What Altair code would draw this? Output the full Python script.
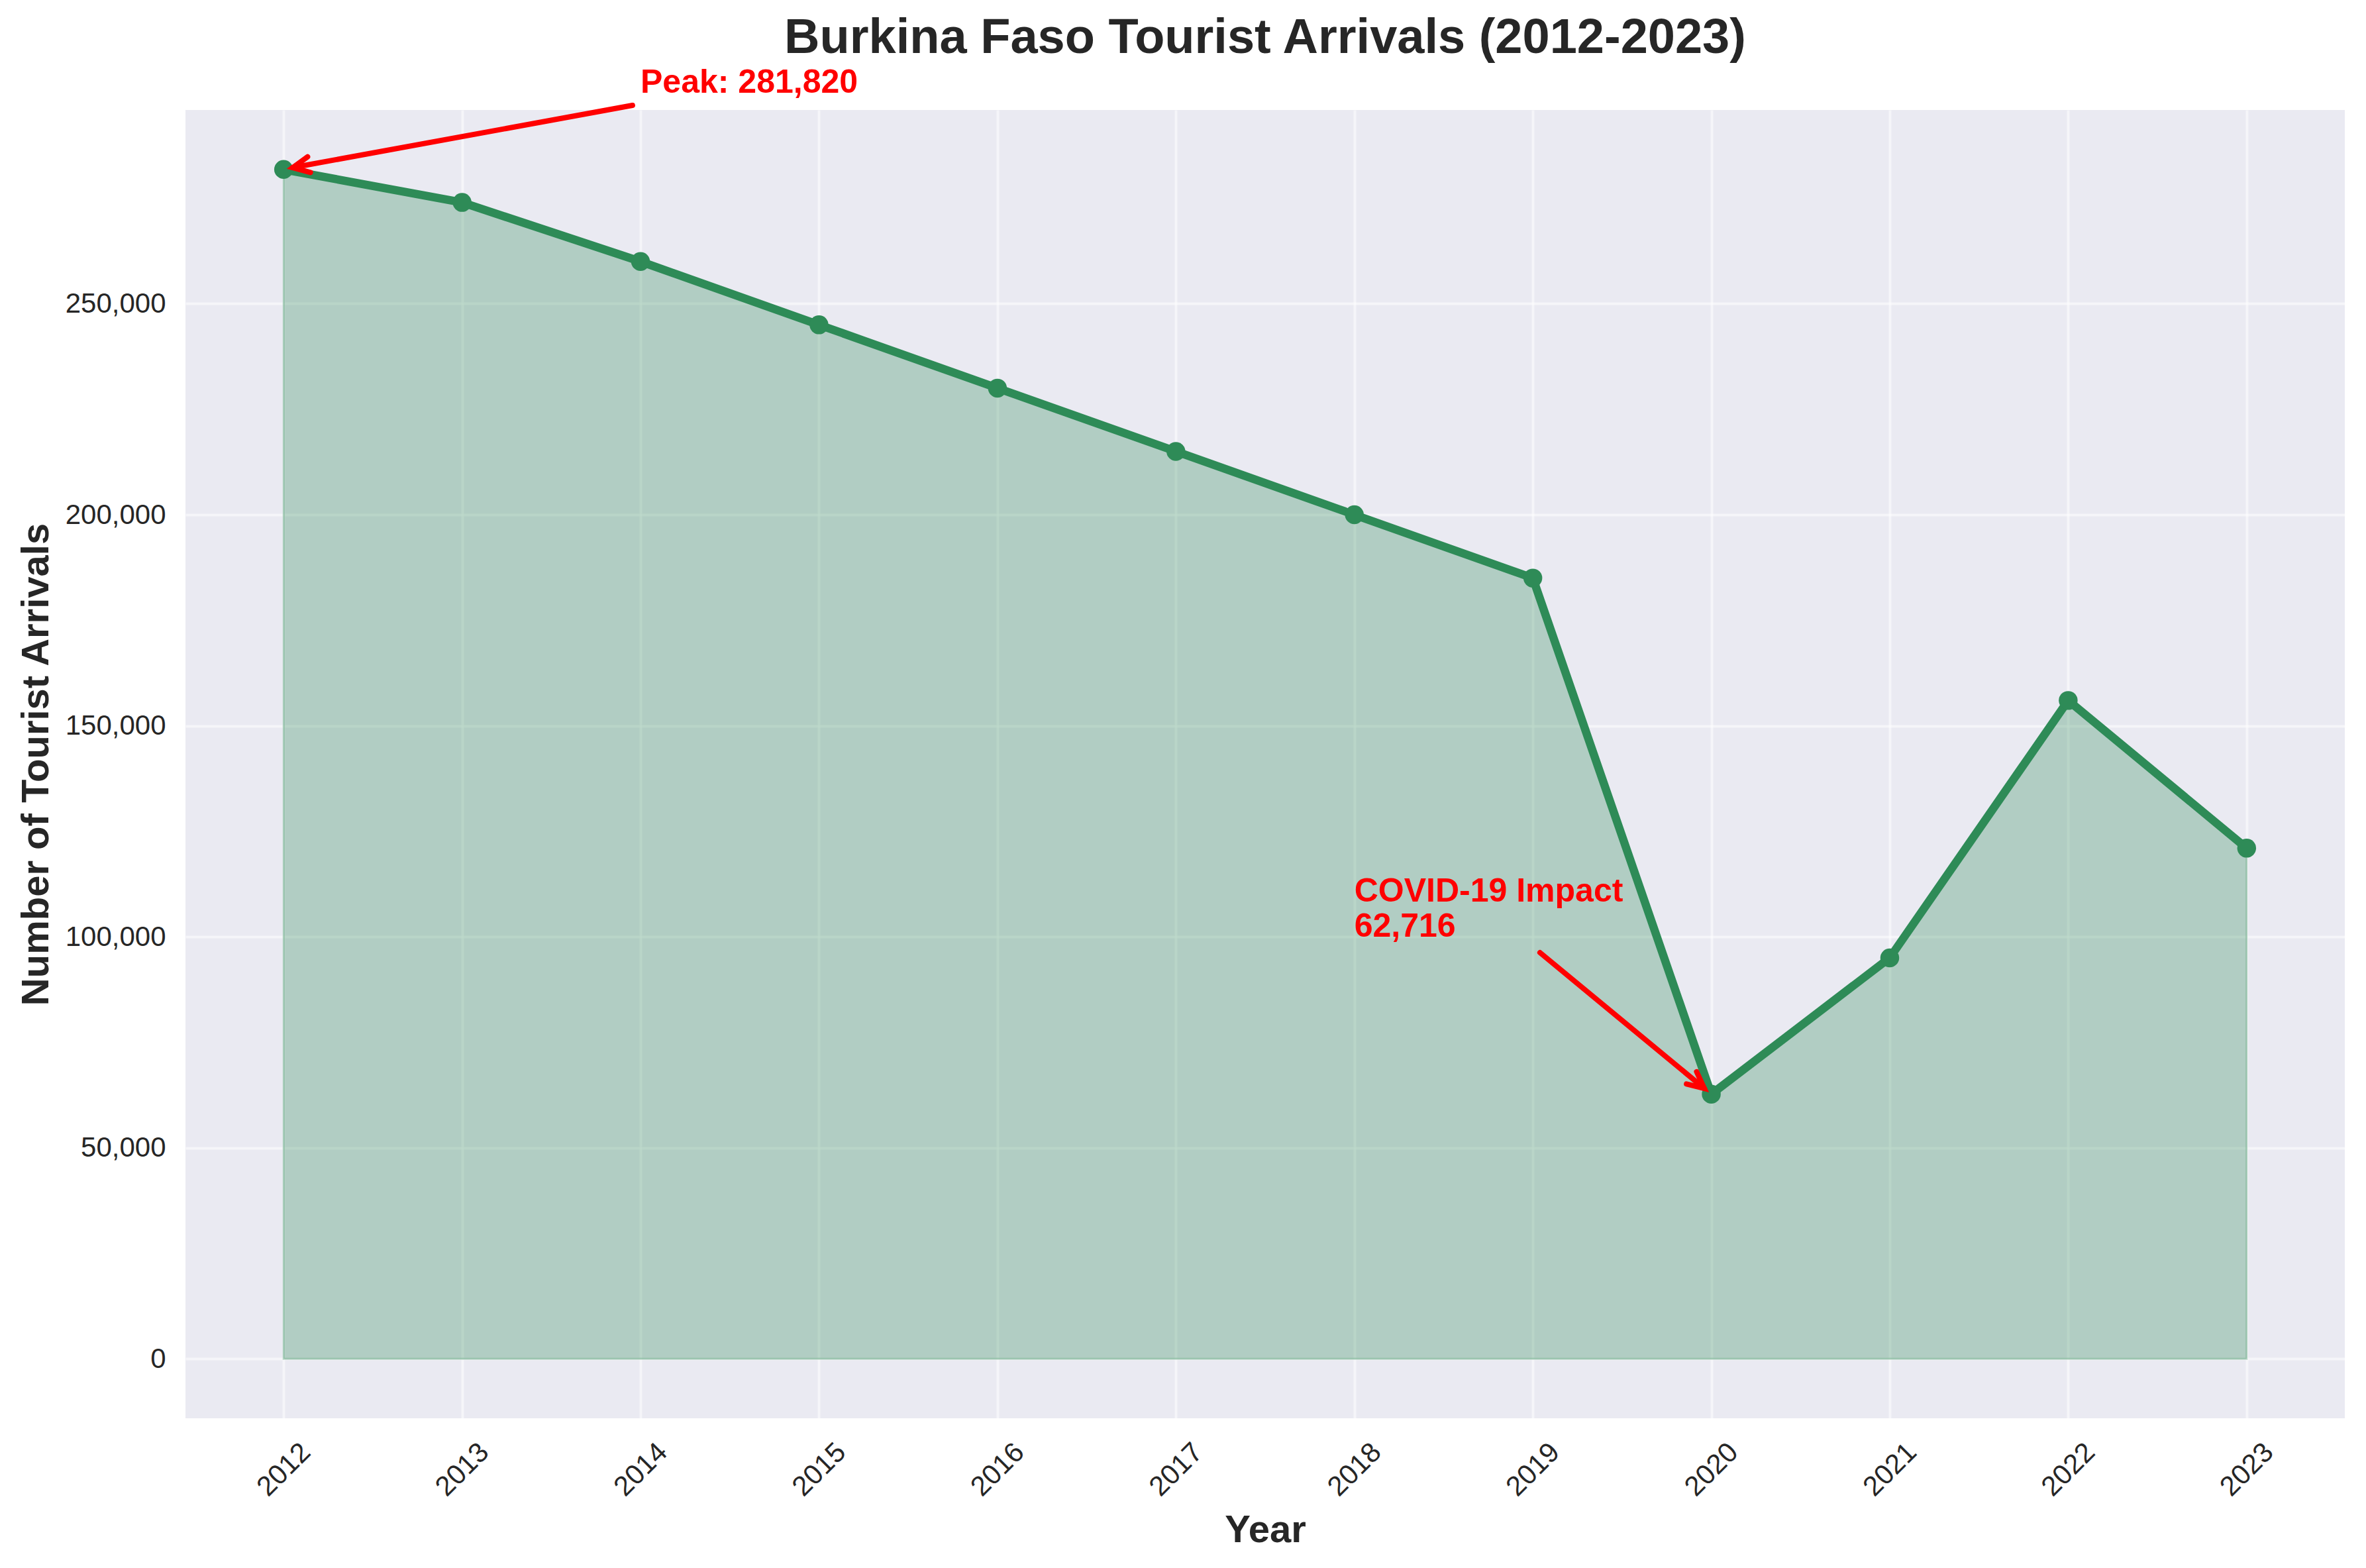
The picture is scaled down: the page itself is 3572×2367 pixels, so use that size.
import math
import altair as alt
import pandas as pd

# ---- data ----
years = list(range(2012, 2024))
arrivals = [281820, 274000, 260000, 245000, 230000, 215000,
            200000, 185000, 62716, 95000, 156000, 121000]

y_ticks = [0, 50000, 100000, 150000, 200000, 250000]

# annotations (data coordinates)
ann_labels = ["Peak: 281,820", "COVID-19 Impact", "62,716"]
ann_text_x = [2014, 2018, 2018]
ann_text_y = [300000, 100000, 100000]
ann_lines_below = [0, 1, 0]

arrow_tail_x = [2013.955, 2019.04]
arrow_tail_y = [297010, 96254]
arrow_tip_x = [2012.051, 2019.961]
arrow_tip_y = [282255, 64078]

x_domain = [2011.45, 2023.55]
y_domain = [-14091, 295911]

# ---- styling ----
W, H = 3260, 1975
GREEN = "#2E8B57"
RED = "#FF0000"
TXT = "#262626"
FONT = "Liberation Sans"

df = pd.DataFrame({"year": years, "arrivals": arrivals})
ann = pd.DataFrame({"label": ann_labels, "x": ann_text_x, "y": ann_text_y,
                    "below": ann_lines_below})


def sx(v):
    return (v - x_domain[0]) / (x_domain[1] - x_domain[0]) * W


def sy(v):
    return (y_domain[1] - v) / (y_domain[1] - y_domain[0]) * H


angles = [
    math.degrees(math.atan2(sy(hy) - sy(ty), sx(hx) - sx(tx))) % 360
    for tx, ty, hx, hy in zip(arrow_tail_x, arrow_tail_y, arrow_tip_x, arrow_tip_y)
]
arrows = pd.DataFrame({"tx": arrow_tail_x, "ty": arrow_tail_y,
                       "hx": arrow_tip_x, "hy": arrow_tip_y, "angle": angles})

xscale = alt.Scale(domain=x_domain, nice=False, zero=False)
yscale = alt.Scale(domain=y_domain, nice=False, zero=False)

xaxis = alt.Axis(
    values=years, format="d", labelAngle=315, labelAlign="center",
    labelBaseline="middle", labelPadding=77, labelFontSize=42,
    labelColor=TXT, labelFont=FONT, ticks=False, tickSize=0, domain=False,
    grid=True, gridColor="white", gridOpacity=0.5, gridWidth=4,
    title="Year", titleFontSize=58, titleFontWeight="bold", titleColor=TXT,
    titleFont=FONT, titleX=W / 2, titleY=186, titleAlign="center",
    titleBaseline="alphabetic", labelFlush=False, labelOverlap=False,
)
yaxis = alt.Axis(
    values=y_ticks, format=",d", labelPadding=30, labelFontSize=42,
    labelColor=TXT, labelFont=FONT, ticks=False, tickSize=0, domain=False,
    grid=True, gridColor="white", gridOpacity=0.5, gridWidth=4,
    title="Number of Tourist Arrivals", titleFontSize=58,
    titleFontWeight="bold", titleColor=TXT, titleFont=FONT, titleAngle=270,
    titleX=-208, titleY=H / 2, titleAlign="center", titleBaseline="alphabetic",
    labelFlush=False, labelOverlap=False,
)

base = alt.Chart(df)

area = base.mark_area(
    color=GREEN, fillOpacity=0.3, stroke=GREEN, strokeOpacity=0.3, strokeWidth=3
).encode(
    x=alt.X("year:Q", scale=xscale, axis=xaxis),
    y=alt.Y("arrivals:Q", scale=yscale, axis=yaxis),
    y2=alt.datum(0),
)

line = base.mark_line(color=GREEN, strokeWidth=12.5).encode(
    x=alt.X("year:Q", scale=xscale), y=alt.Y("arrivals:Q", scale=yscale)
)

pts = base.mark_point(filled=True, color=GREEN, opacity=1, size=810).encode(
    x=alt.X("year:Q", scale=xscale), y=alt.Y("arrivals:Q", scale=yscale)
)

arrow_lines = alt.Chart(arrows).mark_rule(
    color=RED, strokeWidth=8, strokeCap="round"
).encode(
    x=alt.X("tx:Q", scale=xscale), y=alt.Y("ty:Q", scale=yscale),
    x2="hx:Q", y2="hy:Q",
)

arrow_heads = alt.Chart(arrows).mark_point(
    shape="M-1,-0.48L0,0L-1,0.48", filled=False, color=RED, strokeWidth=8,
    size=2500, opacity=1, strokeCap="round", strokeJoin="miter",
).encode(
    x=alt.X("hx:Q", scale=xscale), y=alt.Y("hy:Q", scale=yscale),
    angle=alt.Angle("angle:Q", scale=None),
)

text0 = alt.Chart(ann).transform_filter("datum.below == 0").mark_text(
    align="left", baseline="alphabetic", fontSize=50, fontWeight="bold",
    color=RED, font=FONT,
).encode(
    x=alt.X("x:Q", scale=xscale), y=alt.Y("y:Q", scale=yscale), text="label:N"
)
text1 = alt.Chart(ann).transform_filter("datum.below == 1").mark_text(
    align="left", baseline="alphabetic", fontSize=50, fontWeight="bold",
    color=RED, font=FONT, dy=-53,
).encode(
    x=alt.X("x:Q", scale=xscale), y=alt.Y("y:Q", scale=yscale), text="label:N"
)

chart = alt.layer(area, line, pts, arrow_lines, arrow_heads, text0, text1).properties(
    width=W, height=H,
    title=alt.Title(
        "Burkina Faso Tourist Arrivals (2012-2023)", fontSize=74,
        fontWeight="bold", color=TXT, font=FONT, anchor="middle",
        frame="group", baseline="alphabetic", offset=13, dy=67,
    ),
    autosize=alt.AutoSizeParams(type="none"),
    padding={"left": 272, "top": 158, "right": 24, "bottom": 218},
    background="white",
).configure_view(fill="#EAEAF2", stroke=None)

chart.save("out.html", embed_options={"renderer": "svg", "actions": False})
